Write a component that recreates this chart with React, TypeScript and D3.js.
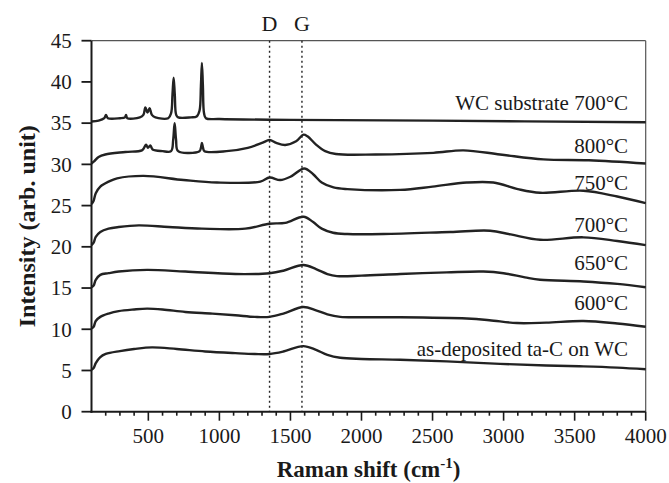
import React from "react";
import * as d3 from "d3";

// ---- data ----
const seriesNames = ["as-deposited ta-C on WC", "600°C", "650°C", "700°C", "750°C", "800°C", "WC substrate 700°C"];

const asDepX = [100, 115, 130, 160, 200, 300, 400, 526, 700, 900, 1112, 1250, 1353, 1450, 1590, 1680, 1760, 1850, 2000, 2272, 2600, 2975, 3300, 3561, 3800, 4000];
const asDepY = [5.1, 5.3, 5.9, 6.6, 7.0, 7.35, 7.6, 7.8, 7.6, 7.3, 7.1, 7.0, 7.0, 7.3, 7.95, 7.5, 6.9, 6.55, 6.4, 6.3, 6.1, 5.8, 5.6, 5.5, 5.35, 5.15];

const s600X = [100, 115, 130, 162, 220, 291, 400, 491, 600, 760, 950, 1112, 1250, 1353, 1450, 1590, 1680, 1760, 1850, 2000, 2272, 2741, 2900, 3093, 3300, 3561, 3800, 4000];
const s600Y = [10.1, 10.3, 11.0, 11.5, 11.9, 12.2, 12.4, 12.5, 12.4, 12.1, 11.9, 11.7, 11.5, 11.5, 11.9, 12.7, 12.3, 11.8, 11.5, 11.45, 11.45, 11.3, 11.1, 10.75, 10.8, 11.0, 10.7, 10.3];

const s650X = [100, 115, 130, 162, 220, 291, 491, 760, 1112, 1353, 1450, 1592, 1680, 1760, 1827, 2000, 2272, 2600, 2858, 3000, 3150, 3257, 3561, 3800, 4000];
const s650Y = [15.1, 15.3, 16.0, 16.6, 16.8, 17.0, 17.2, 17.0, 16.7, 16.8, 17.1, 17.8, 17.3, 16.7, 16.45, 16.5, 16.7, 16.9, 17.0, 16.8, 16.3, 16.0, 15.8, 15.5, 15.1];

const s700X = [100, 115, 130, 162, 220, 291, 432, 643, 877, 1182, 1353, 1463, 1592, 1660, 1720, 1800, 1900, 2155, 2624, 2905, 3050, 3257, 3561, 3800, 4000];
const s700Y = [20.2, 20.5, 21.2, 21.8, 22.2, 22.4, 22.6, 22.4, 22.2, 22.2, 22.8, 22.9, 23.65, 23.0, 22.2, 21.7, 21.55, 21.55, 21.8, 21.95, 21.5, 20.85, 21.15, 20.7, 20.2];

const s750X = [100, 115, 130, 162, 220, 280, 467, 748, 983, 1288, 1353, 1428, 1500, 1597, 1660, 1720, 1803, 1900, 2272, 2500, 2741, 2928, 3100, 3257, 3561, 3800, 4000];
const s750Y = [25.2, 25.6, 26.5, 27.3, 27.9, 28.3, 28.6, 28.1, 27.8, 27.9, 28.4, 28.1, 28.5, 29.5, 28.8, 27.8, 27.2, 27.0, 26.9, 27.3, 27.8, 27.8, 27.0, 26.55, 26.8, 26.1, 25.3];

const s800X = [100, 120, 150, 197, 338, 455, 470, 484, 497, 514, 530, 600, 660, 675, 685, 695, 710, 860, 870, 877, 885, 895, 1050, 1200, 1300, 1353, 1400, 1463, 1540, 1592, 1620, 1680, 1745, 1820, 2100, 2506, 2717, 2975, 3280, 3600, 4000];
const s800Y = [30.1, 30.4, 30.9, 31.2, 31.5, 31.7, 32.0, 32.4, 32.0, 32.3, 31.8, 31.6, 31.6, 33.0, 35.0, 33.0, 31.6, 31.6, 32.0, 32.6, 32.0, 31.6, 31.6, 32.0, 32.6, 32.95, 32.6, 32.35, 32.8, 33.6, 33.4, 32.4, 31.6, 31.25, 31.2, 31.4, 31.7, 31.2, 30.6, 30.5, 30.1];

const wcX = [100, 150, 190, 202, 215, 300, 335, 343, 352, 440, 465, 479, 494, 509, 525, 550, 640, 660, 670, 678, 686, 696, 710, 800, 840, 860, 870, 877, 884, 892, 905, 1000, 1500, 2500, 4000];
const wcY = [35.2, 35.3, 35.6, 36.0, 35.6, 35.6, 35.7, 36.0, 35.6, 35.7, 36.0, 36.9, 36.3, 36.8, 36.0, 35.7, 35.6, 36.2, 38.5, 40.5, 38.5, 36.0, 35.7, 35.7, 35.8, 36.5, 39.5, 42.3, 39.5, 36.2, 35.6, 35.5, 35.4, 35.3, 35.1];

const seriesX = [asDepX, s600X, s650X, s700X, s750X, s800X, wcX];
const seriesY = [asDepY, s600Y, s650Y, s700Y, s750Y, s800Y, wcY];
const labelY = [6.75, 12.3, 17.2, 21.85, 26.9, 31.35, 36.6];
const labelX = 3876;

const xTicks = [500, 1000, 1500, 2000, 2500, 3000, 3500, 4000];
const xMinorTicks = d3.range(200, 4001, 100);
const yTicks = [0, 5, 10, 15, 20, 25, 30, 35, 40, 45];
const bandPositions = [1353, 1581];
const bandLabels = ["D", "G"];

// ---- layout ----
const W = 669, H = 483;
const M = { left: 91.5, top: 40.7, right: 23.3, bottom: 71.3 };
const FONT = "'Liberation Serif', 'Times New Roman', serif";

export default function App() {
  const x = d3.scaleLinear().domain([100, 4000]).range([M.left, W - M.right]);
  const y = d3.scaleLinear().domain([0, 45]).range([H - M.bottom, M.top]);
  const line = d3.line<[number, number]>().x(d => x(d[0])).y(d => y(d[1])).curve(d3.curveCatmullRom.alpha(0.5));
  const x0 = M.left, x1 = W - M.right, y0 = H - M.bottom, y1 = M.top;
  const ink = "#1a1a1a";

  return (
    <svg width={W} height={H} style={{ position: "absolute", left: 0, top: 0, background: "#fff" }} fontFamily={FONT}>
      <rect x={0} y={0} width={W} height={H} fill="#fff" />
      {/* frame */}
      <line x1={x0} x2={x1} y1={y1} y2={y1} stroke="#555" strokeWidth={1.2} />
      <line x1={x1} x2={x1} y1={y1} y2={y0} stroke="#555" strokeWidth={1.2} />
      {/* dotted D/G lines */}
      {bandPositions.map((b, i) => (
        <g key={"b" + i}>
          <line x1={x(b)} x2={x(b)} y1={y1} y2={y0} stroke="#222" strokeWidth={1.4} strokeDasharray="2,3" />
          <text x={x(b)} y={30.7} textAnchor="middle" fontSize={22} fill={ink}>{bandLabels[i]}</text>
        </g>
      ))}
      {/* series */}
      {seriesX.map((xs, i) => {
        const pts = xs.map((v, j) => [v, seriesY[i][j]] as [number, number]);
        return <path key={"s" + i} d={line(pts) || ""} fill="none" stroke="#222" strokeWidth={2.4} strokeLinejoin="round" />;
      })}
      {seriesNames.map((n, i) => (
        <text key={"l" + i} x={x(labelX)} y={y(labelY[i])} textAnchor="end" fontSize={21} fill={ink}>{n}</text>
      ))}
      {/* axes */}
      <line x1={x0} x2={x0} y1={y1} y2={y0 + 1} stroke={ink} strokeWidth={2} />
      <line x1={x0 - 1} x2={x1} y1={y0} y2={y0} stroke={ink} strokeWidth={2} />
      {yTicks.map(t => (
        <g key={"y" + t}>
          <line x1={x0 - 10} x2={x0} y1={y(t)} y2={y(t)} stroke={ink} strokeWidth={1.8} />
          <text x={71.7} y={y(t)} dy="0.35em" textAnchor="end" fontSize={21} fill={ink}>{t}</text>
        </g>
      ))}
      {xMinorTicks.map(t => (
        <line key={"m" + t} x1={x(t)} x2={x(t)} y1={y0} y2={y0 + (t % 500 === 0 ? 9 : 4)} stroke={ink} strokeWidth={1.6} />
      ))}
      {xTicks.map(t => (
        <text key={"x" + t} x={x(t)} y={443.3} textAnchor="middle" fontSize={21} fill={ink}>{t}</text>
      ))}
      <text x={(x0 + x1) / 2} y={477.3} textAnchor="middle" fontSize={23} fontWeight="bold" fill={ink}>
        Raman shift (cm<tspan fontSize={15} dy={-9}>-1</tspan><tspan dy={9}>)</tspan>
      </text>
      <text transform={`translate(35,${(y0 + y1) / 2}) rotate(-90)`} textAnchor="middle" fontSize={24} fontWeight="bold" fill={ink}>
        Intensity (arb. unit)
      </text>
    </svg>
  );
}
